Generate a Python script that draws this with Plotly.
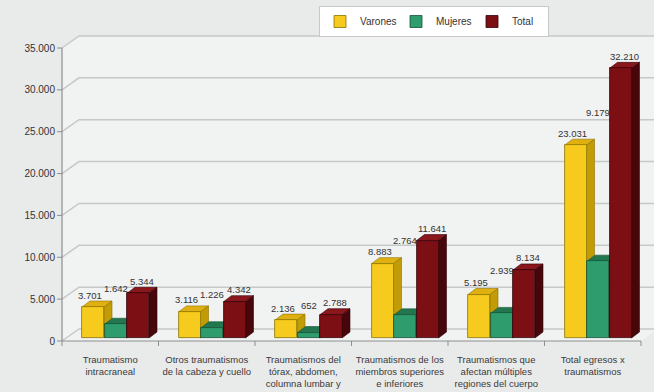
import plotly.graph_objects as go

# ---- data -----------------------------------------------------------------
categories = [
    "Traumatismo<br>intracraneal",
    "Otros traumatismos<br>de la cabeza y cuello",
    "Traumatismos del<br>tórax, abdomen,<br>columna lumbar y<br>pelvis",
    "Traumatismos de los<br>miembros superiores<br>e inferiores",
    "Traumatismos que<br>afectan múltiples<br>regiones del cuerpo",
    "Total egresos x<br>traumatismos",
]
varones = [3701, 3116, 2136, 8883, 5195, 23031]
mujeres = [1642, 1226, 652, 2764, 2939, 9179]
total = [5344, 4342, 2788, 11641, 8134, 32210]
series_names = ["Varones", "Mujeres", "Total"]
y_ticks = [0, 5000, 10000, 15000, 20000, 25000, 30000, 35000]
y_tick_labels = ["0", "5.000", "10.000", "15.000", "20.000", "25.000", "30.000", "35.000"]

# ---- styling --------------------------------------------------------------
FACE = {  # front, top, side, outline
    "Varones": ("#F7CB1E", "#E0B010", "#C29C06", "#8C7300"),
    "Mujeres": ("#2E9C6C", "#22774F", "#1B6443", "#165236"),
    "Total": ("#7C0F14", "#8A171C", "#47060A", "#33040A"),
}
LABEL_XSHIFT = {"Varones": -3, "Mujeres": 0, "Total": 4}
PAPER_BG = "#E9EAEA"
WALL_BG = "#F1F2F2"
GRID = "#C6C9C9"
AXIS = "#8E8E8E"
FONT = "Liberation Sans, Arial, sans-serif"

# ---- geometry (pixel sizes turned into axis units) ------------------------
W, H = 654, 392
ML, MR, MT, MB = 56, 0, 20, 45
PW, PH = W - ML - MR, H - MT - MB
PX_PER_CAT = 96.5                 # pixels per category on the x axis
UNITS_PER_PX = 35000 / 293.0      # y-axis units per pixel
OFF = 6                           # px between plot edge and the drawn axes


def ux(px):
    return px / PX_PER_CAT


def uy(px):
    return px * UNITS_PER_PX


xmin = -ux(OFF)
xmax = xmin + ux(PW)
ymin = -uy(OFF)
ymax = ymin + uy(PH)

WALL_DX, WALL_DY = ux(17), uy(12)     # depth of the back wall
BAR_W, BAR_STEP, BAR_X0 = ux(22), ux(22.5), ux(20)
DEPTH_X, DEPTH_Y = ux(8), uy(6)       # depth of each bar
BASE = uy(3)
LABEL_GAP = uy(12)
n_cat = len(categories)

shapes = []

# back wall, side wall and floor
shapes.append(dict(type="rect", xref="x", yref="y", x0=WALL_DX, x1=xmax,
                   y0=WALL_DY, y1=y_ticks[-1] + WALL_DY, fillcolor=WALL_BG,
                   line=dict(width=0), layer="below"))
shapes.append(dict(type="path", xref="x", yref="y",
                   path=f"M0,0 L{WALL_DX},{WALL_DY} L{WALL_DX},{y_ticks[-1] + WALL_DY} L0,{y_ticks[-1]} Z",
                   fillcolor=WALL_BG, line=dict(width=0), layer="below"))
shapes.append(dict(type="path", xref="x", yref="y",
                   path=f"M0,0 L{n_cat},0 L{n_cat + WALL_DX},{WALL_DY} L{WALL_DX},{WALL_DY} Z",
                   fillcolor=WALL_BG, line=dict(width=0), layer="below"))

# slanted gridlines
for v in y_ticks:
    shapes.append(dict(type="path", xref="x", yref="y",
                       path=f"M0,{v} L{WALL_DX},{v + WALL_DY} L{xmax},{v + WALL_DY}",
                       line=dict(color=GRID, width=1.5), layer="below"))

# axes and tick marks
shapes.append(dict(type="line", xref="x", yref="y", x0=0, x1=0, y0=0, y1=y_ticks[-1],
                   line=dict(color=AXIS, width=1.2), layer="between"))
shapes.append(dict(type="line", xref="x", yref="y", x0=0, x1=n_cat, y0=0, y1=0,
                   line=dict(color=AXIS, width=1.2), layer="between"))
for v in y_ticks:
    shapes.append(dict(type="line", xref="x", yref="y", x0=-ux(5), x1=0, y0=v, y1=v,
                       line=dict(color=AXIS, width=1), layer="between"))
for i in range(n_cat + 1):
    shapes.append(dict(type="line", xref="x", yref="y", x0=i, x1=i, y0=0, y1=-uy(5),
                       line=dict(color=AXIS, width=1), layer="between"))

fig = go.Figure()
annotations = []
label_y = {}
label_x = {}
series = {"Varones": varones, "Mujeres": mujeres, "Total": total}

for j, name in enumerate(series_names):
    vals = series[name]
    front, top, side, edge = FACE[name]
    xc = [i + BAR_X0 + j * BAR_STEP + BAR_W / 2 for i in range(n_cat)]
    fig.add_trace(go.Bar(
        x=xc, y=vals, base=BASE, width=BAR_W, name=name,
        marker=dict(color=front, line=dict(color=edge, width=0.8)),
        hoverinfo="skip",
    ))
    for x, v in zip(xc, vals):
        xl, xr, t = x - BAR_W / 2, x + BAR_W / 2, BASE + v
        shapes.append(dict(type="path", xref="x", yref="y",
                           path=f"M{xl},{t} L{xl + DEPTH_X},{t + DEPTH_Y} L{xr + DEPTH_X},{t + DEPTH_Y} L{xr},{t} Z",
                           fillcolor=top, line=dict(color=edge, width=0.6), layer="between"))
        shapes.append(dict(type="path", xref="x", yref="y",
                           path=f"M{xr},{BASE} L{xr + DEPTH_X},{BASE + DEPTH_Y} L{xr + DEPTH_X},{t + DEPTH_Y} L{xr},{t} Z",
                           fillcolor=side, line=dict(color=edge, width=0.6), layer="between"))
    label_y[name] = [BASE + v + LABEL_GAP for v in vals]
    label_x[name] = xc

# value labels; the middle label sits between its neighbours
for i in range(n_cat):
    yl, rl = label_y["Varones"][i], label_y["Total"][i]
    gl = max(label_y["Mujeres"][i], yl + min((rl - yl) / 2, uy(21)))
    pos = {"Varones": yl, "Mujeres": gl, "Total": rl}
    for name in series_names:
        v = series[name][i]
        annotations.append(dict(
            x=label_x[name][i], y=pos[name], xref="x", yref="y",
            text=f"{v:,}".replace(",", "."), showarrow=False,
            xshift=LABEL_XSHIFT[name], yanchor="middle",
            font=dict(family=FONT, size=9.5, color="#333333"),
        ))

fig.update_layout(
    width=W, height=H,
    margin=dict(l=ML, r=MR, t=MT, b=MB, autoexpand=False),
    paper_bgcolor=PAPER_BG, plot_bgcolor=PAPER_BG,
    barmode="overlay", bargap=0,
    shapes=shapes, annotations=annotations,
    font=dict(family=FONT, size=10, color="#333333"),
    showlegend=True,
    legend=dict(orientation="h", x=(319 - ML) / PW, xanchor="left",
                y=(MT + PH - 6) / PH, yanchor="top",
                bgcolor="#FFFFFF", bordercolor="#C8C8C8", borderwidth=1,
                font=dict(size=10, color="#333333"),
                entrywidth=31, entrywidthmode="pixels", traceorder="normal"),
    xaxis=dict(range=[xmin, xmax], tickvals=[i + 0.5 for i in range(n_cat)],
               ticktext=categories, ticks="", showgrid=False, zeroline=False,
               showline=False, automargin=False, fixedrange=True,
               ticklabelstandoff=5,
               tickfont=dict(size=9.5, color="#3A3A3A")),
    yaxis=dict(range=[ymin, ymax], tickvals=y_ticks, ticktext=y_tick_labels,
               ticks="", showgrid=False, zeroline=False, showline=False,
               automargin=False, fixedrange=True,
               tickfont=dict(size=10, color="#333333")),
)

fig.write_html("out.html")
